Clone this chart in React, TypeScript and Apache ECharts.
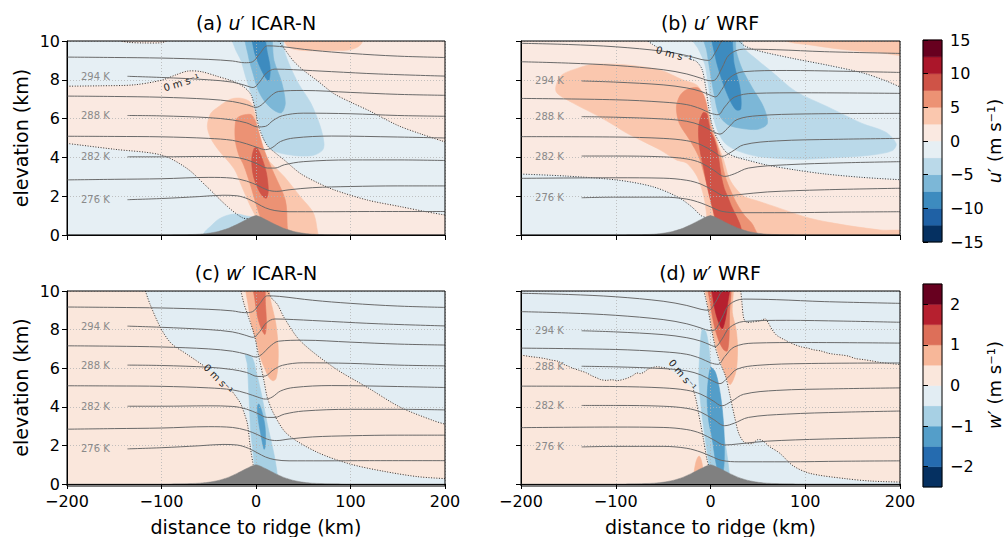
import React, { useEffect, useRef } from 'react';
import * as echarts from 'echarts';

type P = [number, number];
const F = 'DejaVu Sans';

// ---------- scales / ticks ----------
const U_LEVELS = [-15, -12.5, -10, -7.5, -5, -2.5, 0, 2.5, 5, 7.5, 10, 12.5, 15];
const W_LEVELS = [-2.5, -2, -1.5, -1, -0.5, 0, 0.5, 1, 1.5, 2, 2.5];
const U_TICKS = [-15, -10, -5, 0, 5, 10, 15];
const W_TICKS = [-2, -1, 0, 1, 2];
const U_COLORS = ['#053061', '#1f61a5', '#3d8bbf', '#7cb7d7', '#bad9e9', '#e6eff4', '#fae9e1', '#fac7ae', '#ec9274', '#cf5347', '#ab162a', '#67001f'];
const W_COLORS = ['#053061', '#256baf', '#549ec9', '#a7d0e4', '#e2edf3', '#fae7dc', '#f7b799', '#dd6f59', '#b6202f', '#67001f'];

// ---------- terrain ----------
const HILL_X = [-200, -100, -80, -60, -50, -40, -30, -20, -10, 0, 10, 20, 30, 40, 50, 60, 80, 100, 200];
const HILL_Z = [0, 0, 0.01, 0.04, 0.09, 0.18, 0.33, 0.55, 0.8, 1.0, 0.8, 0.55, 0.33, 0.18, 0.09, 0.04, 0.01, 0, 0];

// ---------- isentropes (km) ----------
const icar276: P[] = [[-136,1.82],[-100,1.88],[-60,1.98],[-35,2.05],[-20,2.02],[-8,1.85],[2,1.6],[10,1.4],[20,1.26],[35,1.2],[70,1.2],[120,1.21],[200,1.21]];
const icar279: P[] = [[-200,2.84],[-150,2.87],[-100,2.9],[-50,2.97],[-25,2.93],[-10,2.78],[2,2.55],[12,2.32],[22,2.25],[35,2.33],[60,2.44],[100,2.5],[150,2.53],[200,2.53]];
const icar282: P[] = [[-136,4.03],[-100,4.03],[-50,4.05],[-25,4.02],[-10,3.88],[2,3.65],[12,3.45],[20,3.45],[30,3.62],[50,3.78],[100,3.87],[150,3.87],[200,3.84]];
const icar285: P[] = [[-200,5.09],[-150,5.08],[-100,5.06],[-50,4.98],[-25,4.88],[-10,4.7],[2,4.5],[10,4.4],[17,4.5],[26,4.82],[40,5.0],[80,5.1],[150,5.05],[200,5.0]];
const icar288: P[] = [[-136,6.16],[-100,6.14],[-50,6.05],[-25,5.93],[-10,5.78],[2,5.57],[10,5.6],[18,5.9],[28,6.15],[50,6.28],[100,6.25],[150,6.16],[200,6.12]];
const icar291: P[] = [[-200,7.16],[-150,7.14],[-100,7.1],[-50,7.0],[-25,6.88],[-10,6.72],[0,6.58],[7,6.75],[14,7.1],[24,7.4],[50,7.45],[100,7.35],[150,7.25],[200,7.2]];
const icar294: P[] = [[-136,8.18],[-100,8.12],[-50,8.0],[-25,7.88],[-12,7.72],[-3,7.6],[4,7.9],[11,8.35],[20,8.55],[40,8.52],[80,8.42],[130,8.3],[200,8.19]];
const icar297: P[] = [[-200,9.17],[-150,9.15],[-100,9.12],[-50,9.05],[-25,8.97],[-12,8.88],[-4,8.92],[4,9.35],[12,9.75],[25,9.72],[60,9.52],[100,9.36],[150,9.22],[200,9.15]];

const wrf276: P[] = [[-136,1.92],[-100,1.95],[-50,1.95],[-25,1.85],[-10,1.65],[0,1.45],[12,1.22],[30,1.15],[80,1.15],[140,1.18],[200,1.2]];
const wrf279: P[] = [[-200,2.92],[-100,2.95],[-50,2.93],[-25,2.82],[-10,2.62],[3,2.3],[15,2.02],[30,2.08],[60,2.22],[120,2.33],[200,2.41]];
const wrf282: P[] = [[-136,4.07],[-100,4.07],[-50,4.03],[-25,3.92],[-10,3.72],[3,3.35],[15,3.02],[25,3.15],[40,3.45],[80,3.62],[140,3.72],[200,3.78]];
const wrf285: P[] = [[-200,5.07],[-100,5.05],[-50,4.98],[-25,4.86],[-10,4.65],[3,4.3],[12,4.05],[22,4.28],[35,4.65],[70,4.85],[130,4.93],[200,4.98]];
const wrf288: P[] = [[-136,6.1],[-100,6.07],[-50,5.98],[-25,5.86],[-10,5.65],[2,5.35],[10,5.2],[18,5.5],[28,5.95],[50,6.15],[100,6.24],[200,6.27]];
const wrf291: P[] = [[-200,7.04],[-100,6.97],[-50,6.85],[-25,6.72],[-10,6.5],[0,6.28],[8,6.2],[15,6.6],[25,7.1],[45,7.3],[100,7.33],[200,7.3]];
const wrf294: P[] = [[-136,7.94],[-100,7.88],[-50,7.74],[-25,7.58],[-10,7.4],[0,7.2],[5,7.12],[12,7.5],[20,8.1],[35,8.42],[80,8.48],[140,8.44],[200,8.38]];
const wrf297: P[] = [[-200,8.93],[-150,8.86],[-100,8.74],[-50,8.52],[-25,8.3],[-10,8.08],[0,7.95],[5,8.0],[12,8.6],[20,9.3],[35,9.58],[70,9.55],[120,9.45],[200,9.36]];
const wrf300: P[] = [[-200,9.88],[-150,9.82],[-100,9.7],[-50,9.47],[-25,9.25],[-10,9.05],[-2,9.0],[5,9.4],[12,10.0],[20,10.35],[40,10.5],[200,10.4]];

const ISEN_NAMES = ['276 K', '282 K', '288 K', '294 K'];

// ---------- zero contours ----------
const aZ1: P[] = [[-200,7.67],[-165,7.69],[-129,7.74],[-100,7.98],[-85,8.25],[-72,8.45],[-58,8.42],[-41,8.18],[-23,7.9],[-12,7.6],[-5,7.2],[-1,6.5],[3,5.57],[8,4.95],[13,4.55],[20,4.25],[30,3.86],[47,3.17],[65,2.7],[83,2.32],[118,1.8],[153,1.46],[180,1.2],[200,1.03]];
const aZ2: P[] = [[-200,4.72],[-150,4.42],[-100,4.12],[-73,3.43],[-52,2.49],[-30,1.46],[-14,0.88],[-5,0.85]];
const aZ3: P[] = [[24,10],[30,9.6],[40,8.95],[50,8.5],[65,7.95],[82,7.3],[100,6.85],[120,6.4],[150,5.65],[175,5.2],[200,4.8]];
const aZ4: P[] = [[-142,10],[-135,9.93],[-120,9.9],[-100,9.91],[-95,10]];

const bZ1a: P[] = [[-66,10],[-61,9.82],[-56,9.67]];
const bZ1b: P[] = [[-21,9.05],[-15,8.95],[-9,8.55],[-5,7.6],[-2,6.6],[1.2,5.76],[5,5.2],[9,4.8],[17,4.25],[28,4.0],[38,3.87],[60,3.6],[90,3.35],[120,3.15],[160,2.97],[200,2.85]];
const bZ2: P[] = [[-200,3.14],[-153,3.04],[-98,2.83],[-61,2.49],[-35,1.97],[-20,1.46],[-10,1.0],[-5,0.9]];
const bZ3: P[] = [[30,10],[36,9.75],[50,9.5],[87,9.1],[124,8.75],[161,8.35],[185,7.95],[200,7.63]];

const cZ1a: P[] = [[-117,10],[-112,9.3],[-101,8.1],[-90,7.3],[-73,6.72],[-56,6.15]];
const cZ1b: P[] = [[-26,4.85],[-20,4.45],[-16,4.14],[-12,3.6],[-9,3.1],[-6,1.9],[-3,1.0]];
const cZ2: P[] = [[-16,10],[-12.5,9.3],[-9,8.8],[-2,7.76],[3.2,6.55],[8.5,5.34],[12,4.48],[19,3.62],[33,2.59],[65,1.64],[100,1.03],[135,0.66],[171,0.38],[200,0.28]];
const cZ3: P[] = [[12,10],[17,9.6],[22.6,9.31],[30,8.6],[47,7.41],[82.5,6.03],[118,5.0],[153,3.97],[188,3.28],[200,3.1]];

const dZ1a: P[] = [[-200,6.68],[-190,6.6],[-183,6.56],[-175,6.5],[-168,6.42],[-161,6.36],[-155,6.2],[-150,6.1],[-146,6.01],[-138,5.88],[-131,5.76],[-125,5.6],[-120,5.5],[-116,5.41],[-110,5.37],[-104,5.4],[-98,5.36],[-92,5.42],[-87,5.5],[-82,5.62],[-78,5.75],[-74,5.72],[-70,5.8],[-66,5.95],[-62,6.02],[-57,6.08],[-52,6.05],[-46,6.0],[-42,5.9]];
const dZ1b: P[] = [[-18,4.87],[-15,4.3],[-12.9,3.73],[-10,3.0],[-7.6,2.36],[-4,1.33],[-2,0.95]];
const dZ2: P[] = [[-7,10],[-5,9.6],[-2,8.9],[1.2,8.0],[5,7.1],[10,6.29],[15.8,5.6],[20.6,4.58],[25.9,3.38],[30,2.6],[36,2.15],[44,2.1],[50,2.3],[55,2.25],[62,1.95],[73,1.6],[87,0.95],[105,0.55],[142,0.28],[170,0.15],[200,0.1]];
const dZ3: P[] = [[32,10],[33,9.5],[35,8.6],[38,8.38],[45,8.4],[52,8.45],[58,8.55],[61,8.35],[65,8.0],[70,7.7],[79,7.45],[85,7.3],[90,7.2],[96,7.1],[102,7.05],[109,6.95],[116,6.9],[124,6.78],[131,6.72],[139,6.68],[146,6.62],[153,6.5],[161,6.45],[170,6.38],[179,6.3],[190,6.24],[200,6.19]];

// zero label: x, y (km), angle (deg)
const ZL_A = [-79, 7.85, 17];
const ZL_B = [-38.5, 9.3, -16];
const ZL_C = [-40, 5.45, -46];
const ZL_D = [-29.6, 5.65, -50];

// ---------- filled regions (km) ----------
const rev = (a: P[]) => [...a].reverse();
const BOX: P[] = [[-200, 0], [200, 0], [200, 10], [-200, 10]];

// (a) u' ICAR-N
const aPeachMain: P[] = [[-210,4.72], ...aZ2, [-1,0.5], [2,-1], [210,-1], [210,1.03], ...rev(aZ1), [-210,7.67]];
const aPeachTR: P[] = [[24,11], ...aZ3, [210,4.8], [210,11]];
const aPeachTL: P[] = [...aZ4, [-95,11], [-142,11]];
const aDome: P[] = [[-57,-0.5],[-55,0.1],[-48,0.45],[-40,0.8],[-30,1.02],[-20,1.08],[-10,0.98],[-3,0.9],[0,0.5],[0,-0.5]];
const aNeg1: P[] = [[-26,10.5],[-22,9.6],[-16,9.0],[-10,8.0],[-4.5,7.2],[0,6.4],[4,5.6],[9,4.85],[18,4.35],[40,4.1],[60,4.1],[70,4.35],[72,4.7],[68,5.6],[58,6.8],[45,7.8],[36,8.7],[30,9.5],[26,10.5]];
const aNeg2: P[] = [[-11,10.5],[-8,9.2],[-3,8.3],[2,7.5],[9,6.9],[19,6.43],[27,6.3],[31,6.8],[27,7.9],[19,9.0],[14,10.5]];
const aNeg3: P[] = [[-4,10.5],[-2,9.5],[3,8.8],[9,8.2],[13.5,7.95],[15,8.6],[12,9.4],[7,10.5]];
const aPos1: P[] = [[-16,7.05],[-27,7.0],[-40,6.6],[-48,6.26],[-51.5,5.6],[-48,5.0],[-40,4.4],[-23,3.4],[-15,2.5],[-7,1.6],[0,0.9],[3,0.3],[5,-0.5],[64,-0.5],[64,0.5],[60,1.2],[47,1.97],[30,3.0],[10,4.05],[5,4.8],[1.5,5.6],[-1.5,6.3],[-6,6.85]];
const aPos1b: P[] = [[28,10.5],[32,9.8],[40,9.58],[55,9.5],[75,9.5],[95,9.52],[106,9.65],[112,9.9],[114,10.5]];
const aPos2: P[] = [[-12,6.2],[-18,6.1],[-21.5,5.9],[-22,4.9],[-18,4.1],[-13,3.6],[-6,2.6],[0,1.6],[4,1.0],[8,0.4],[10,-0.5],[33,-0.5],[33,0.5],[31,1.8],[19,3.17],[8.5,4.4],[3,5.3],[-1,5.9],[-5,6.2]];
const aPos3: P[] = [[-2,4.46],[-4.5,3.9],[-3,3.1],[2,2.4],[7,2.0],[11,1.9],[13,2.3],[11,3.2],[6,4.0],[1,4.5]];

// (b) u' WRF
const bBlueLL: P[] = [[-210,3.14], ...bZ2, [-1,0.5], [0,-1], [-210,-1]];
const bBlueMid: P[] = [[-66,11], ...bZ1a, ...bZ1b, [210,2.85], [210,7.63], ...rev(bZ3), [30,11]];
const bPos1: P[] = [[-163,7.4],[-158,8.2],[-140,8.6],[-124,8.8],[-100,8.8],[-80,8.72],[-53,8.5],[-29,7.99],[-15,7.75],[-9,7.35],[-4,6.6],[-0.5,6.0],[2.5,5.4],[5.5,5.0],[9,4.5],[13,4.0],[16,3.5],[19,3.0],[25,2.5],[35,2.0],[50,1.75],[68,1.46],[105,0.86],[142,0.51],[179,0.26],[210,0.12],[210,-1],[0,-1],[-4,1.0],[-7,1.97],[-14,3.0],[-25,3.7],[-36,3.87],[-53,4.38],[-70,4.8],[-88,5.24],[-105,5.75],[-124,6.27],[-145,6.8]];
const bPos1b: P[] = [[72,10.5],[80,10.0],[105,9.8],[142,9.55],[175,9.42],[210,9.32],[210,10.5]];
const bPos2: P[] = [[-14,7.6],[-25,7.5],[-32,7.2],[-36,6.6],[-33,5.76],[-22,4.9],[-12,4.0],[-6,3.0],[-1,2.1],[3,1.2],[5,0.4],[6,-1],[55,-1],[45,0.5],[36,1.0],[28,1.6],[22,2.2],[17,2.8],[14,3.3],[11,4.0],[8,4.5],[4.5,5.0],[1.5,5.4],[-1.5,6.0],[-4.5,6.8],[-8,7.3]];
const bPos3: P[] = [[-8,6.3],[-12.5,5.6],[-11.5,4.5],[-7,3.4],[-3,2.4],[1,1.6],[5,0.8],[8,-1],[36,-1],[32,0.4],[27,1.0],[22,1.5],[18,2.0],[14.5,2.4],[11.5,3.0],[8.5,4.0],[6.5,4.5],[3.5,5.0],[0.5,5.3],[-2,5.8],[-4,6.25]];
const bNeg1: P[] = [[-24,10.5],[-13,9.6],[-6,8.8],[-2.5,7.8],[0.5,6.8],[4,5.9],[9,5.2],[16,4.7],[28,4.35],[50,4.05],[90,3.9],[130,3.98],[170,4.12],[192,4.35],[196,4.7],[185,5.3],[160,5.75],[124,6.6],[90,7.4],[65,8.4],[45,9.2],[36,9.6],[28,10.5]];
const bNeg2: P[] = [[-8,10.5],[-4,9.5],[0,8.3],[4,7.2],[9,6.2],[18,5.7],[32,5.5],[50,5.45],[60,5.75],[56,6.6],[44,7.6],[33,8.6],[27,9.5],[24,10.5]];
const bNeg3: P[] = [[2,10.5],[5,9.2],[12,8.0],[20,7.0],[27,6.45],[32,6.5],[31,7.6],[25,8.8],[20,10.5]];

// (c) w' ICAR-N
const cPeachL: P[] = [[-210,11],[-117,11], ...cZ1a, ...cZ1b, [0,0.3], [0,-1], [-210,-1]];
const cPeachR: P[] = [[-16,11], ...cZ2, [210,0.28], [210,3.1], ...rev(cZ3), [12,11]];
const cPos1: P[] = [[-10,10.5],[-8,9.2],[-4,8.1],[1,7.3],[5,6.5],[10,5.9],[14,5.5],[18,5.35],[21,5.45],[23,6.0],[23.5,7.0],[21,8.3],[15,9.6],[11.5,10.5]];
const cPos2: P[] = [[-3,10.5],[-1,9.5],[2,8.6],[6,8.0],[9.5,7.75],[11,8.3],[10,9.3],[8,10.5]];
const cNeg1: P[] = [[-11,6.72],[-9.2,6.2],[-7.4,4.48],[-5.6,2.76],[-3,1.55],[-1,0.5],[-1,-1],[24,-1],[22.6,0.43],[19,1.55],[12,3.1],[5,4.83],[0,5.86],[-4,6.55]];
const cNeg2: P[] = [[1.5,4.0],[2.5,3.3],[5,2.6],[8.5,1.8],[10,2.0],[9.5,3.0],[6,3.8],[3,4.15]];

// (d) w' WRF
const dPeachL: P[] = [[-210,6.68], ...dZ1a, ...dZ1b, [0,0.3], [0,-1], [-210,-1]];
const dPeachR: P[] = [[-7,11], ...dZ2, [210,0.1], [210,6.19], ...rev(dZ3), [32,11]];
const dPos1: P[] = [[-5.5,10.5],[-3.5,9.5],[0,8.6],[3,7.7],[8,6.8],[12.5,6.1],[17,5.5],[20.5,5.15],[24,5.4],[27.5,6.0],[28.5,7.1],[27,8.0],[23,8.9],[22,10.5]];
const dPos2: P[] = [[-2,10.5],[0,9.3],[4,8.2],[9,7.4],[14,6.95],[17.6,6.89],[19.5,7.5],[20,8.8],[20,10.5]];
const dPos3: P[] = [[1.8,10.5],[3,9.5],[7,8.6],[12.3,8.05],[15.5,8.5],[18,9.3],[19.5,10.5]];
const dBump: P[] = [[-18,-1],[-17.5,0.5],[-15,1.2],[-12,1.45],[-9.5,1.2],[-8,0.7],[-7,-1]];
const dNeg1: P[] = [[-8.8,8.0],[-11,7.0],[-12.3,5.44],[-10,4.0],[-7.1,2.87],[-4,1.8],[-1.8,0.99],[0,-1],[22,-1],[20,0.48],[15.8,2.02],[8.8,3.73],[3.5,4.8],[1.8,5.44],[-0.5,6.5],[-1.8,7.14],[-5,7.9]];
const dNeg2: P[] = [[0,6.03],[-3.5,4.58],[-2,3.3],[1.8,2.36],[5,1.3],[8,0.7],[12.3,0.48],[14.5,1.2],[14.1,2.87],[10.6,4.58],[5.3,5.78]];

type Layer = { pts: P[]; band: number; rect?: boolean };

const A_LAYERS: Layer[] = [
  { pts: BOX, band: 5, rect: true }, { pts: aPeachMain, band: 6 }, { pts: aPeachTR, band: 6 }, { pts: aPeachTL, band: 6 },
  { pts: aDome, band: 4 }, { pts: aNeg1, band: 4 }, { pts: aNeg2, band: 3 }, { pts: aNeg3, band: 2 },
  { pts: aPos1, band: 7 }, { pts: aPos1b, band: 7 }, { pts: aPos2, band: 8 }, { pts: aPos3, band: 9 },
];
const B_LAYERS: Layer[] = [
  { pts: BOX, band: 6, rect: true }, { pts: bBlueLL, band: 5 }, { pts: bBlueMid, band: 5 },
  { pts: bNeg1, band: 4 }, { pts: bNeg2, band: 3 }, { pts: bNeg3, band: 2 },
  { pts: bPos1, band: 7 }, { pts: bPos1b, band: 7 }, { pts: bPos2, band: 8 }, { pts: bPos3, band: 9 },
];
const C_LAYERS: Layer[] = [
  { pts: BOX, band: 4, rect: true }, { pts: cPeachL, band: 5 }, { pts: cPeachR, band: 5 },
  { pts: cPos1, band: 6 }, { pts: cPos2, band: 7 }, { pts: cNeg1, band: 3 }, { pts: cNeg2, band: 2 },
];
const D_LAYERS: Layer[] = [
  { pts: BOX, band: 4, rect: true }, { pts: dPeachL, band: 5 }, { pts: dPeachR, band: 5 },
  { pts: dPos1, band: 6 }, { pts: dPos2, band: 7 }, { pts: dPos3, band: 8 }, { pts: dBump, band: 6 },
  { pts: dNeg1, band: 3 }, { pts: dNeg2, band: 2 },
];

const ICAR_LINES = [icar276, icar279, icar282, icar285, icar288, icar291, icar294, icar297];
const WRF_LINES = [wrf276, wrf279, wrf282, wrf285, wrf288, wrf291, wrf294, wrf297, wrf300];
const ICAR_LABELED = [icar276, icar282, icar288, icar294];
const WRF_LABELED = [wrf276, wrf282, wrf288, wrf294];

// ---------- layout ----------
const GRIDS = [
  { left: 67, top: 41, width: 378, height: 194 },
  { left: 521, top: 41, width: 379, height: 194 },
  { left: 67, top: 291, width: 378, height: 195 },
  { left: 521, top: 291, width: 379, height: 195 },
];
const CB_GRIDS = [
  { left: 923, top: 40, width: 19, height: 202 },
  { left: 923, top: 284, width: 19, height: 203 },
];

const fmt = (v: number) => (v < 0 ? '\u2212' + String(-v) : String(v));

function fillSeries(gi: number, layers: Layer[], colors: string[]) {
  return {
    type: 'custom', xAxisIndex: gi, yAxisIndex: gi, clip: true, z: 1, silent: true,
    data: layers.map(() => [0, 5]),
    renderItem: (params: any, api: any) => {
      const L = layers[params.dataIndex];
      const pts = L.pts.map((p) => api.coord(p));
      const c = colors[L.band];
      return { type: 'polygon', shape: { points: pts, smooth: L.rect ? 0 : 0.3 }, style: { fill: c, stroke: c, lineWidth: 0.6 } };
    },
  };
}

function zeroSeries(gi: number, lines: P[][]) {
  return {
    type: 'custom', xAxisIndex: gi, yAxisIndex: gi, clip: true, z: 3, silent: true,
    data: lines.map(() => [0, 5]),
    renderItem: (params: any, api: any) => {
      const pts = lines[params.dataIndex].map((p) => api.coord(p));
      return { type: 'polyline', shape: { points: pts, smooth: 0.3 }, style: { fill: 'none', stroke: '#1e1e1e', lineWidth: 0.9, lineDash: [1, 1.6] } };
    },
  };
}

function textSeries(gi: number, items: { t: string; x: number; y: number; r: number; c: string; s: number }[]) {
  return {
    type: 'custom', xAxisIndex: gi, yAxisIndex: gi, z: 6, silent: true,
    data: items.map((it) => [it.x, it.y]),
    renderItem: (params: any, api: any) => {
      const it = items[params.dataIndex];
      const c = api.coord([api.value(0), api.value(1)]);
      return {
        type: 'text', x: c[0], y: c[1], rotation: (it.r * Math.PI) / 180,
        style: { text: it.t, fill: it.c, fontSize: it.s, fontFamily: F, align: 'center', verticalAlign: 'middle' },
      };
    },
  };
}

function lineSeries(gi: number, data: P[]) {
  return {
    type: 'line', xAxisIndex: gi, yAxisIndex: gi, data, smooth: 0.35, symbol: 'none', showSymbol: false, silent: true, z: 3,
    lineStyle: { color: '#6a6a6a', width: 1 },
  };
}

function hillSeries(gi: number) {
  return {
    type: 'line', xAxisIndex: gi, yAxisIndex: gi, data: HILL_X.map((x, i) => [x, HILL_Z[i]]), smooth: 0.2,
    symbol: 'none', showSymbol: false, silent: true, z: 5,
    lineStyle: { color: '#808080', width: 0.5 }, areaStyle: { color: '#808080', opacity: 1 },
  };
}

function cbSeries(gi: number, levels: number[], colors: string[]) {
  return {
    type: 'custom', xAxisIndex: gi, yAxisIndex: gi, z: 1, silent: true,
    data: colors.map(() => [0.5, 0]),
    renderItem: (params: any, api: any) => {
      const i = params.dataIndex;
      const a = api.coord([0, levels[i + 1]]);
      const b = api.coord([1, levels[i]]);
      return { type: 'rect', shape: { x: a[0], y: a[1], width: b[0] - a[0], height: b[1] - a[1] }, style: { fill: colors[i], stroke: colors[i], lineWidth: 0.5 } };
    },
  };
}

function buildOption() {
  const panels = [
    { layers: A_LAYERS, colors: U_COLORS, zero: [aZ1, aZ2, aZ3, aZ4], lines: ICAR_LINES, lab: ICAR_LABELED, zl: ZL_A },
    { layers: B_LAYERS, colors: U_COLORS, zero: [bZ1a, bZ1b, bZ2, bZ3], lines: WRF_LINES, lab: WRF_LABELED, zl: ZL_B },
    { layers: C_LAYERS, colors: W_COLORS, zero: [cZ1a, cZ1b, cZ2, cZ3], lines: ICAR_LINES, lab: ICAR_LABELED, zl: ZL_C },
    { layers: D_LAYERS, colors: W_COLORS, zero: [dZ1a, dZ1b, dZ2, dZ3], lines: WRF_LINES, lab: WRF_LABELED, zl: ZL_D },
  ];
  const grid: any[] = [...GRIDS, ...CB_GRIDS];
  const xAxis: any[] = [];
  const yAxis: any[] = [];
  const series: any[] = [];
  const gridLine = { show: true, lineStyle: { color: '#b4b4b4', width: 0.8, type: [1, 2] } };
  panels.forEach((p, gi) => {
    const bottom = gi >= 2;
    const left = gi % 2 === 0;
    xAxis.push({
      gridIndex: gi, type: 'value', min: -200, max: 200, interval: 100, z: 2,
      axisLine: { show: true, onZero: false, lineStyle: { color: '#000', width: 1 } },
      axisTick: { show: true, inside: false, length: 5, lineStyle: { color: '#000', width: 1 } },
      axisLabel: { show: bottom, fontSize: 16, color: '#000', fontFamily: F, margin: 9, formatter: fmt },
      splitLine: gridLine,
      name: bottom ? 'distance to ridge (km)' : '', nameLocation: 'middle', nameGap: 33,
      nameTextStyle: { fontSize: 19, color: '#000', fontFamily: F },
    });
    yAxis.push({
      gridIndex: gi, type: 'value', min: 0, max: 10, interval: 2, z: 2,
      axisLine: { show: true, onZero: false, lineStyle: { color: '#000', width: 1 } },
      axisTick: { show: true, inside: false, length: 5, lineStyle: { color: '#000', width: 1 } },
      axisLabel: { show: left, fontSize: 16, color: '#000', fontFamily: F, margin: 7, formatter: fmt },
      splitLine: gridLine,
      name: left ? 'elevation (km)' : '', nameLocation: 'middle', nameGap: 37, nameRotate: 90,
      nameTextStyle: { fontSize: 19, color: '#000', fontFamily: F },
    });
    series.push(fillSeries(gi, p.layers, p.colors));
    series.push(zeroSeries(gi, p.zero));
    p.lines.forEach((l) => series.push(lineSeries(gi, l)));
    series.push(hillSeries(gi));
    const items = p.lab.map((l, k) => ({ t: ISEN_NAMES[k], x: -170, y: l[0][1], r: 0, c: '#8a8a8a', s: 10 }));
    items.push({ t: '0 m s\u207B\u00B9', x: p.zl[0], y: p.zl[1], r: p.zl[2], c: '#222', s: 10 });
    series.push(textSeries(gi, items));
  });
  // colorbars
  [[U_LEVELS, U_COLORS, U_TICKS], [W_LEVELS, W_COLORS, W_TICKS]].forEach((cb: any, k) => {
    const gi = 4 + k;
    const lv = cb[0] as number[];
    xAxis.push({ gridIndex: gi, type: 'value', min: 0, max: 1, show: false });
    yAxis.push({
      gridIndex: gi, type: 'value', min: lv[0], max: lv[lv.length - 1], position: 'right', z: 2,
      ...(k === 0 ? { interval: 5 } : {}),
      axisLine: { show: false },
      axisTick: { show: true, inside: false, length: 5, lineStyle: { color: '#000', width: 1 }, customValues: cb[2] },
      axisLabel: { fontSize: 16, color: '#000', fontFamily: F, margin: 8, formatter: fmt, customValues: cb[2] },
      splitLine: { show: false },
    });
    series.push(cbSeries(gi, lv, cb[1]));
  });

  const frames = [...GRIDS, ...CB_GRIDS].map((g) => ({
    type: 'rect', z: 100, silent: true,
    shape: { x: g.left, y: g.top, width: g.width, height: g.height },
    style: { fill: 'none', stroke: '#000', lineWidth: 1 },
  }));
  const mkRich = (s: number) => ({
    n: { fontSize: s, fontFamily: F, fill: '#000', color: '#000' },
    i: { fontSize: s, fontFamily: F, fill: '#000', color: '#000', fontStyle: 'italic' },
  });
  const title = (x: number, y: number, tag: string, v: string, m: string) => ({
    type: 'text', x, y, z: 100, silent: true,
    style: { text: `{n|(${tag}) }{i|${v}}{n|\u2032 ${m}}`, rich: mkRich(19), align: 'center', verticalAlign: 'middle' },
  });
  const cbLabel = (y: number, v: string) => ({
    type: 'text', x: 994, y, rotation: Math.PI / 2, z: 100, silent: true,
    style: { text: `{i|${v}}{n|\u2032 (m s\u207B\u00B9)}`, rich: mkRich(18), align: 'center', verticalAlign: 'middle' },
  });

  return {
    animation: false,
    backgroundColor: '#fff',
    textStyle: { fontFamily: F },
    grid, xAxis, yAxis, series,
    graphic: [
      ...frames,
      title(256, 23, 'a', 'u', 'ICAR-N'),
      title(710, 23, 'b', 'u', 'WRF'),
      title(256, 273, 'c', 'w', 'ICAR-N'),
      title(710, 273, 'd', 'w', 'WRF'),
      cbLabel(141, 'u'),
      cbLabel(385, 'w'),
    ],
  };
}

export default function App() {
  const ref = useRef<HTMLDivElement>(null);
  useEffect(() => {
    const chart = echarts.init(ref.current as HTMLDivElement, null, { renderer: 'svg' });
    chart.setOption(buildOption() as any);
    return () => chart.dispose();
  }, []);
  return <div ref={ref} style={{ position: 'fixed', left: 0, top: 0, width: 1008, height: 537, background: '#fff' }} />;
}
